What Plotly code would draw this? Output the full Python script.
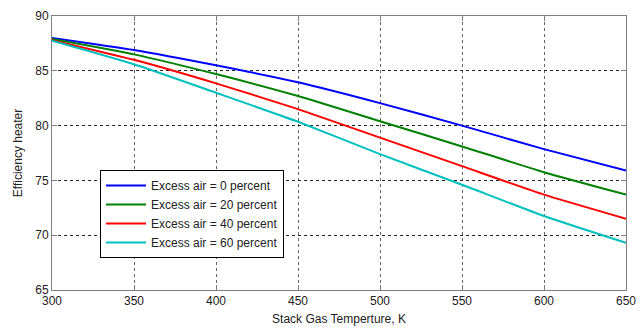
import plotly.graph_objects as go

temps = [300, 350, 400, 450, 500, 550, 600, 650]
eff_0 = [88.0, 86.9, 85.5, 83.95, 82.05, 80.0, 77.85, 75.9]
eff_20 = [87.9, 86.5, 84.7, 82.7, 80.4, 78.1, 75.75, 73.7]
eff_40 = [87.8, 86.0, 83.85, 81.5, 78.9, 76.3, 73.7, 71.5]
eff_60 = [87.75, 85.6, 83.0, 80.35, 77.4, 74.6, 71.75, 69.3]
labels = ["Excess air = 0 percent", "Excess air = 20 percent",
          "Excess air = 40 percent", "Excess air = 60 percent"]
colors = ["#0000ff", "#008000", "#ff0000", "#00bfbf"]
x_ticks = [300, 350, 400, 450, 500, 550, 600, 650]
y_ticks = [65, 70, 75, 80, 85, 90]

fig = go.Figure()
for ys, name, c in zip([eff_0, eff_20, eff_40, eff_60], labels, colors):
    fig.add_trace(go.Scatter(x=temps, y=ys, mode="lines", name=name,
                             line=dict(color=c, width=2, shape="spline",
                                       smoothing=0.5)))

axis_common = dict(
    showline=True, linecolor="#808080", linewidth=1, mirror="ticks",
    ticks="inside", ticklen=5, tickcolor="#808080",
    showgrid=True, griddash="3px,3px", zeroline=False, automargin=False,
    tickfont=dict(family="Liberation Sans, Arial, sans-serif", size=12, color="#222"),
)

fig.update_layout(
    width=643, height=328,
    margin=dict(l=52, r=17, t=16, b=38),
    paper_bgcolor="white", plot_bgcolor="white",
    font=dict(family="Liberation Sans, Arial, sans-serif", size=11, color="#222"),
    xaxis=dict(range=[300, 650], tickvals=x_ticks, gridcolor="#666",
               title=dict(text="Stack Gas Temperture, K", standoff=7,
                          font=dict(size=12)),
               **axis_common),
    yaxis=dict(range=[65, 90], tickvals=y_ticks, gridcolor="#222",
               title=dict(text="Efficiency heater", standoff=10,
                          font=dict(size=12)),
               **axis_common),
    legend=dict(x=0.0836, y=0.438, xanchor="left", yanchor="top",
                bgcolor="white", bordercolor="black", borderwidth=1,
                font=dict(size=12), tracegroupgap=0,
                itemwidth=40),
    showlegend=True,
)

fig.write_html("out.html", config={"displayModeBar": False},
               post_script="document.body.style.margin='0';")
